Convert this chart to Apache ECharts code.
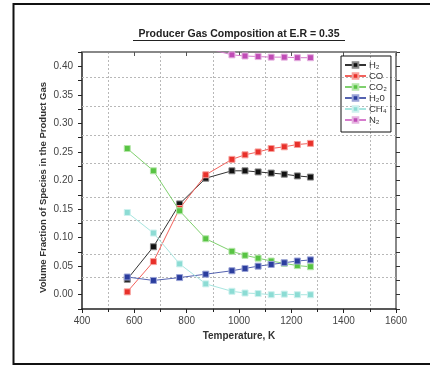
<!DOCTYPE html>
<html>
<head>
<meta charset="utf-8">
<script src="https://cdn.jsdelivr.net/npm/echarts@6/dist/echarts.min.js"></script>
<style>
  html, body { margin: 0; padding: 0; background: #fff; }
  #chart-wrapper { width: 430px; height: 365px; }
</style>
</head>
<body>
<div id="chart-wrapper"></div>
<script>
// data
const temperature = [573, 673, 773, 873, 973, 1023, 1073, 1123, 1173, 1223, 1273];
const h2  = [0.027, 0.084, 0.159, 0.204, 0.217, 0.217, 0.215, 0.213, 0.211, 0.208, 0.206];
const co  = [0.005, 0.058, 0.151, 0.210, 0.237, 0.245, 0.250, 0.256, 0.259, 0.263, 0.265];
const co2 = [0.256, 0.217, 0.147, 0.098, 0.076, 0.069, 0.064, 0.059, 0.055, 0.051, 0.049];
const h2o = [0.031, 0.025, 0.030, 0.036, 0.042, 0.046, 0.050, 0.053, 0.056, 0.059, 0.061];
const ch4 = [0.144, 0.108, 0.054, 0.019, 0.006, 0.003, 0.002, 0.000, 0.001, 0.000, 0.000];
const n2  = [0.470, 0.455, 0.443, 0.432, 0.420, 0.418, 0.417, 0.416, 0.416, 0.415, 0.415];
const speciesNames = ["H\u2082", "CO", "CO\u2082", "H\u20820", "CH\u2084", "N\u2082"];
const speciesValues = [h2, co, co2, h2o, ch4, n2];
const yGridValues = [0.025, 0.075, 0.125, 0.175, 0.225, 0.275, 0.325, 0.375];

// styles
const markerColors = ["#111111", "#e8302a", "#58c443", "#2b3d9e", "#8cdcd4", "#c04cb6"];
const lineColors   = ["#333333", "#f2625c", "#7fd06e", "#5563b0", "#a8e6e0", "#d67ccd"];
const borderColors = ["#888888", "#f7a09c", "#b5e6aa", "#9aa3d6", "#cdf1ee", "#e6b3e1"];

const chartDom = document.getElementById("chart-wrapper");
const chart = echarts.init(chartDom, null, { renderer: "canvas" });

const font = "Liberation Sans, Arial, sans-serif";

const series = speciesNames.map((name, k) => ({
  name: name,
  type: "line",
  xAxisIndex: 0,
  yAxisIndex: 0,
  data: temperature.map((t, i) => [t, speciesValues[k][i]]),
  symbol: "rect",
  symbolSize: 6,
  showAllSymbol: true,
  clip: true,
  lineStyle: { color: lineColors[k], width: 1 },
  itemStyle: { color: markerColors[k], borderColor: borderColors[k], borderWidth: 1 },
  emphasis: { disabled: true },
  z: 3 + k,
}));

// dotted horizontal grid at the half steps
series.push({
  name: "grid",
  type: "line",
  data: [],
  markLine: {
    silent: true,
    symbol: "none",
    z: 1,
    label: { show: false },
    lineStyle: { color: "#b8b8b8", type: [2, 2], width: 1 },
    data: yGridValues.map((v) => ({ yAxis: v })),
  },
});

const tickLabel = (value) => {
  const m = Math.round(value * 1000);
  if (m < 0 || m % 50 !== 0) return "";
  return value.toFixed(2);
};

const option = {
  backgroundColor: "#fff",
  animation: false,
  title: {
    text: "Producer Gas Composition at E.R = 0.35",
    left: 239,
    top: 29,
    padding: 0,
    textAlign: "center",
    textStyle: { fontFamily: font, fontSize: 10.5, fontWeight: "bold", color: "#222" },
  },
  grid: { left: 82, right: 34, top: 52, bottom: 56 },
  legend: {
    data: speciesNames,
    orient: "vertical",
    left: 341,
    top: 56,
    padding: [4, 4, 7, 3],
    itemGap: 1,
    itemWidth: 21,
    itemHeight: 7,
    borderColor: "#111",
    borderWidth: 1,
    textStyle: { fontFamily: font, fontSize: 9.5, color: "#333", padding: [0, 0, 0, -2] },
  },
  xAxis: [
    {
      type: "value",
      position: "bottom",
      min: 400,
      max: 1600,
      interval: 200,
      name: "Temperature, K",
      nameLocation: "middle",
      nameGap: 19,
      nameTextStyle: { fontFamily: font, fontSize: 10, fontWeight: "bold", color: "#333" },
      axisLine: { show: true, onZero: false, lineStyle: { color: "#222", width: 1.5 } },
      axisTick: { show: true, inside: false, length: 4, lineStyle: { color: "#222" } },
      minorTick: { show: true, splitNumber: 2, length: 3, lineStyle: { color: "#222" } },
      axisLabel: { fontFamily: font, fontSize: 10, color: "#444", margin: 7, formatter: (v) => String(v) },
      splitLine: { show: false },
      minorSplitLine: { show: true, lineStyle: { color: "#b8b8b8", type: [2, 2], width: 1 } },
    },
    {
      type: "value",
      position: "top",
      min: 400,
      max: 1600,
      interval: 200,
      axisLine: { show: true, onZero: false, lineStyle: { color: "#888", width: 2 } },
      axisTick: { show: true, inside: true, length: 4, lineStyle: { color: "#555" } },
      axisLabel: { show: false },
      splitLine: { show: false },
    },
  ],
  yAxis: [
    {
      type: "value",
      position: "left",
      min: -0.025,
      max: 0.425,
      interval: 0.025,
      name: "Volume Fraction of Species in the Product Gas",
      nameLocation: "middle",
      nameRotate: 90,
      nameGap: 34,
      nameMoveOverlap: false,
      nameTextStyle: {
        fontFamily: font,
        fontSize: 9.5,
        fontWeight: "bold",
        color: "#333",
        padding: [0, 14, 0, 0],
      },
      axisLine: { show: true, onZero: false, lineStyle: { color: "#222", width: 1.5 } },
      axisTick: { show: true, inside: false, length: 4, lineStyle: { color: "#222" } },
      axisLabel: { fontFamily: font, fontSize: 10, color: "#444", margin: 9, formatter: tickLabel },
      splitLine: { show: false },
    },
    {
      type: "value",
      position: "right",
      min: -0.025,
      max: 0.425,
      interval: 0.025,
      axisLine: { show: true, onZero: false, lineStyle: { color: "#888", width: 2 } },
      axisTick: { show: true, inside: false, length: 4, lineStyle: { color: "#333" } },
      axisLabel: { show: false },
      splitLine: { show: false },
    },
  ],
  graphic: [
    {
      type: "line",
      shape: { x1: 133, y1: 40.5, x2: 345, y2: 40.5 },
      style: { stroke: "#222", lineWidth: 1 },
    },
    {
      type: "rect",
      shape: { x: 13.5, y: 4, width: 440, height: 360 },
      style: { fill: null, stroke: "#111", lineWidth: 2 },
      silent: true,
    },
  ],
  series: series,
};

chart.setOption(option);
</script>
</body>
</html>
